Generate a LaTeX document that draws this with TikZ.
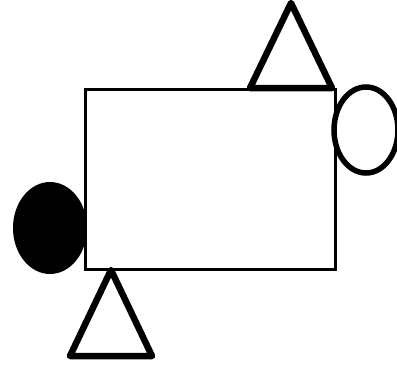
\documentclass[tikz,border=0pt]{standalone}
\usetikzlibrary{calc}

\begin{document}
\begin{tikzpicture}[
  x=1pt,y=-1pt,
  body/.style={draw=black,line width=3pt,fill=white},
  tri/.style={draw=black,line width=6.5pt,line join=round,fill=white},
  ring/.style={draw=black,line width=5.5pt,fill=white},
  blob/.style={fill=black}
]
\useasboundingbox (0,0) rectangle (397,367);
% main box
\draw[body] (85,89) rectangle (335,269);
\coordinate (boxtop) at (291,88);
\coordinate (boxbot) at (111,270);
% triangle on top edge
\draw[tri] (boxtop) ++(-41,0) -- ++(41,-85) -- ++(41,85) -- cycle;
% triangle below the box
\draw[tri] (boxbot) -- ++(41,86) -- ++(-82,0) -- cycle;
% open ellipse on the right corner
\draw[ring] (366,130) ellipse [x radius=32,y radius=43];
% filled ellipse on the left
\fill[blob] (50,228) ellipse [x radius=37,y radius=46];
\end{tikzpicture}
\end{document}
